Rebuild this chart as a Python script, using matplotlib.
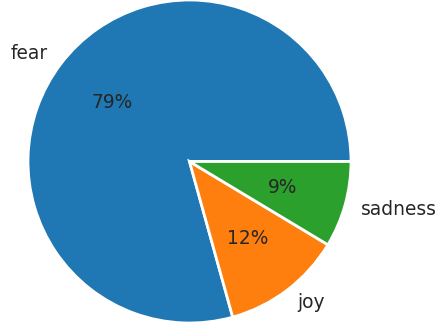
import matplotlib
import matplotlib.pyplot as plt
matplotlib.use('Agg')

emotions = ['fear', 'joy', 'sadness']
counts = [92, 14, 10]
colors = ['#1f77b4', '#ff7f0e', '#2ca02c']


def main():
    fig = plt.figure(figsize=(4.36, 3.27), dpi=100)
    ax = fig.add_axes([0, 0, 1, 1])
    ax.pie(counts, labels=emotions, colors=colors, autopct='%1.0f%%',
           wedgeprops={'edgecolor': 'white', 'linewidth': 2},
           textprops={'fontsize': 13.4, 'color': '#262626'})
    # place the pie like in the original picture
    r, cx, cy = 161.5, 189.5, 161.5
    ax.set_xlim(-cx / r, (436 - cx) / r)
    ax.set_ylim(-(327 - cy) / r, cy / r)
    ax.set_aspect('equal')
    ax.axis('off')
    fig.savefig('out.png', dpi=100)


main()
